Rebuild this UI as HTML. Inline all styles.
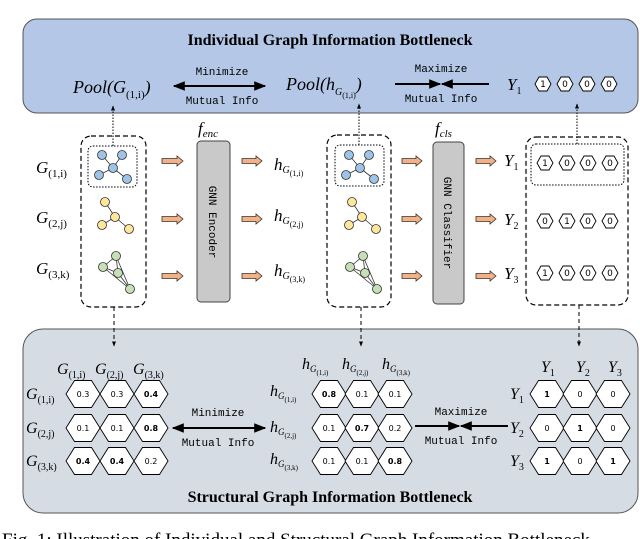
<!DOCTYPE html>
<html><head><meta charset="utf-8"><style>
html,body{margin:0;padding:0;background:#fff;overflow:hidden;}
svg{display:block}
.m{font-family:"Liberation Serif",serif;font-style:italic;}
.mono{font-family:"Liberation Mono","DejaVu Sans Mono",monospace;font-size:11px;}
.b{font-family:"Liberation Serif",serif;font-weight:bold;}
</style></head><body>
<svg id="s" width="640" height="539" viewBox="0 0 640 539" xmlns="http://www.w3.org/2000/svg">
<defs>
<marker id="ah" viewBox="0 0 10 10" refX="9" refY="5" markerWidth="6" markerHeight="6" orient="auto-start-reverse"><path d="M0,1 L10,5 L0,9 z" fill="#000"/></marker>
<marker id="ah2" viewBox="0 0 10 10" refX="9" refY="5" markerWidth="5" markerHeight="5" orient="auto"><path d="M0,1 L10,5 L0,9 z" fill="#000"/></marker>
</defs>
<rect x="23" y="19" width="615" height="94" rx="14" fill="#b4c7e7" stroke="#555" stroke-width="1"/>
<text x="330" y="45" text-anchor="middle" class="b" font-size="16">Individual Graph Information Bottleneck</text>
<text x="73" y="93" class="m" font-size="18">Pool(G<tspan font-size="11" dy="5" font-style="normal">(1,i)</tspan><tspan dy="-5">)</tspan></text>
<text x="222" y="75" text-anchor="middle" class="mono">Minimize</text>
<text x="222" y="104" text-anchor="middle" class="mono">Mutual Info</text>
<line x1="174" y1="86" x2="265" y2="86" stroke="#000" stroke-width="2" marker-start="url(#ah)" marker-end="url(#ah)"/>
<text x="286" y="90" class="m" font-size="18">Pool(h<tspan font-size="10" dy="5">G</tspan><tspan font-size="8" dy="3" font-style="normal">(1,i)</tspan><tspan dy="-8">)</tspan></text>
<text x="441" y="72" text-anchor="middle" class="mono">Maximize</text>
<text x="441" y="102" text-anchor="middle" class="mono">Mutual Info</text>
<line x1="395" y1="84" x2="440" y2="84" stroke="#000" stroke-width="2" marker-end="url(#ah)"/>
<line x1="489" y1="84" x2="442" y2="84" stroke="#000" stroke-width="2" marker-end="url(#ah)"/>
<text x="507" y="90" class="m" font-size="17">Y<tspan font-size="10" dy="4" font-style="normal">1</tspan></text>
<g id="tophex"></g>

<rect x="23" y="329" width="615" height="184" rx="20" fill="#d6dce4" stroke="#555" stroke-width="1"/>
<text x="330" y="502" text-anchor="middle" class="b" font-size="16">Structural Graph Information Bottleneck</text>

<g fill="none" stroke="#000" stroke-width="1.2" stroke-dasharray="5,3">
<rect x="81" y="136" width="65" height="171" rx="10"/>
<rect x="327" y="135" width="64" height="172" rx="10"/>
<rect x="526" y="137" width="102" height="168" rx="10"/>
</g>
<g fill="none" stroke="#000" stroke-width="1" stroke-dasharray="1.5,1.5">
<rect x="88" y="146" width="49" height="41" rx="5"/>
<rect x="335" y="145" width="49" height="41" rx="5"/>
<rect x="531" y="144" width="93" height="41" rx="5"/>
<line x1="113" y1="146" x2="113" y2="106" marker-end="url(#ah2)"/>
<line x1="359" y1="145" x2="359" y2="104" marker-end="url(#ah2)"/>
<line x1="577" y1="144" x2="577" y2="104" marker-end="url(#ah2)"/>
</g>
<g fill="none" stroke="#000" stroke-width="1" stroke-dasharray="4,3">
<line x1="114" y1="307" x2="114" y2="346" marker-end="url(#ah2)"/>
<line x1="361" y1="307" x2="361" y2="346" marker-end="url(#ah2)"/>
<line x1="579" y1="305" x2="579" y2="346" marker-end="url(#ah2)"/>
</g>

<g id="g1" stroke="#333" stroke-width="0.8">
<g fill="#9dc3e6"><line x1="102" y1="155" x2="113" y2="168"/><line x1="122" y1="155" x2="113" y2="168"/><line x1="99" y1="175" x2="113" y2="168"/><line x1="127" y1="179" x2="113" y2="168"/>
<circle cx="102" cy="155" r="4.5"/><circle cx="122" cy="155" r="4.5"/><circle cx="113" cy="168" r="4.5"/><circle cx="99" cy="175" r="4.5"/><circle cx="127" cy="179" r="4.5"/></g>
<g fill="#ffe699"><line x1="105" y1="202" x2="115" y2="217"/><line x1="102" y1="225" x2="115" y2="217"/><line x1="129" y1="229" x2="115" y2="217"/>
<circle cx="105" cy="202" r="4.5"/><circle cx="115" cy="217" r="4.5"/><circle cx="102" cy="225" r="4.5"/><circle cx="129" cy="229" r="4.5"/></g>
<g fill="#c5e0b4"><line x1="116" y1="256" x2="103" y2="267"/><line x1="116" y1="256" x2="118" y2="273"/><line x1="103" y1="267" x2="118" y2="273"/><line x1="103" y1="267" x2="130" y2="289"/><line x1="118" y1="273" x2="130" y2="289"/><line x1="116" y1="256" x2="130" y2="289"/>
<circle cx="116" cy="256" r="4.5"/><circle cx="103" cy="267" r="4.5"/><circle cx="118" cy="273" r="4.5"/><circle cx="130" cy="289" r="4.5"/></g>
</g>
<use href="#g1" x="247" y="0"/>

<g class="m" font-size="17">
<text x="36" y="173">G<tspan font-size="11" dy="4" font-style="normal">(1,i)</tspan></text>
<text x="36" y="223">G<tspan font-size="11" dy="4" font-style="normal">(2,j)</tspan></text>
<text x="36" y="274">G<tspan font-size="11" dy="4" font-style="normal">(3,k)</tspan></text>
<text x="274" y="170">h<tspan font-size="10" dy="3">G</tspan><tspan font-size="8" dy="3" font-style="normal">(1,i)</tspan></text>
<text x="274" y="221">h<tspan font-size="10" dy="3">G</tspan><tspan font-size="8" dy="3" font-style="normal">(2,j)</tspan></text>
<text x="274" y="276">h<tspan font-size="10" dy="3">G</tspan><tspan font-size="8" dy="3" font-style="normal">(3,k)</tspan></text>
<text x="504" y="166">Y<tspan font-size="10" dy="4" font-style="normal">1</tspan></text>
<text x="504" y="225">Y<tspan font-size="10" dy="4" font-style="normal">2</tspan></text>
<text x="504" y="279">Y<tspan font-size="10" dy="4" font-style="normal">3</tspan></text>
<text x="198" y="134">f<tspan font-size="11" dy="3">enc</tspan></text>
<text x="435" y="134">f<tspan font-size="11" dy="3">cls</tspan></text>
</g>

<rect x="197" y="141" width="33" height="161" rx="4" fill="#c9c9c9" stroke="#444"/>
<rect x="433" y="142" width="31" height="162" rx="4" fill="#c9c9c9" stroke="#444"/>
<text transform="translate(209,222) rotate(90)" text-anchor="middle" class="mono" font-size="10">GNN Encoder</text>
<text transform="translate(444,223) rotate(90)" text-anchor="middle" class="mono" font-size="10">GNN Classifier</text>

<g id="arrows"></g>

<g class="m" font-size="16">
<text x="57" y="374">G<tspan font-size="10" dy="4" font-style="normal">(1,i)</tspan></text>
<text x="95" y="374">G<tspan font-size="10" dy="4" font-style="normal">(2,j)</tspan></text>
<text x="133" y="374">G<tspan font-size="10" dy="4" font-style="normal">(3,k)</tspan></text>
<text x="26" y="399">G<tspan font-size="10" dy="4" font-style="normal">(1,i)</tspan></text>
<text x="26" y="433">G<tspan font-size="10" dy="4" font-style="normal">(2,j)</tspan></text>
<text x="26" y="466">G<tspan font-size="10" dy="4" font-style="normal">(3,k)</tspan></text>
<text x="302" y="369">h<tspan font-size="9" dy="3">G</tspan><tspan font-size="7" dy="3" font-style="normal">(1,i)</tspan></text>
<text x="342" y="369">h<tspan font-size="9" dy="3">G</tspan><tspan font-size="7" dy="3" font-style="normal">(2,j)</tspan></text>
<text x="382" y="369">h<tspan font-size="9" dy="3">G</tspan><tspan font-size="7" dy="3" font-style="normal">(3,k)</tspan></text>
<text x="270" y="396">h<tspan font-size="9" dy="3">G</tspan><tspan font-size="7" dy="3" font-style="normal">(1,i)</tspan></text>
<text x="270" y="432">h<tspan font-size="9" dy="3">G</tspan><tspan font-size="7" dy="3" font-style="normal">(2,j)</tspan></text>
<text x="270" y="464">h<tspan font-size="9" dy="3">G</tspan><tspan font-size="7" dy="3" font-style="normal">(3,k)</tspan></text>
<text x="541" y="372">Y<tspan font-size="10" dy="4" font-style="normal">1</tspan></text>
<text x="576" y="372">Y<tspan font-size="10" dy="4" font-style="normal">2</tspan></text>
<text x="608" y="372">Y<tspan font-size="10" dy="4" font-style="normal">3</tspan></text>
<text x="510" y="399">Y<tspan font-size="10" dy="4" font-style="normal">1</tspan></text>
<text x="510" y="433">Y<tspan font-size="10" dy="4" font-style="normal">2</tspan></text>
<text x="510" y="466">Y<tspan font-size="10" dy="4" font-style="normal">3</tspan></text>
</g>
<text x="218" y="416" text-anchor="middle" class="mono">Minimize</text>
<text x="218" y="446" text-anchor="middle" class="mono">Mutual Info</text>
<line x1="173" y1="428" x2="265" y2="428" stroke="#000" stroke-width="2" marker-start="url(#ah)" marker-end="url(#ah)"/>
<text x="461" y="415" text-anchor="middle" class="mono">Maximize</text>
<text x="461" y="444" text-anchor="middle" class="mono">Mutual Info</text>
<line x1="415" y1="426" x2="459" y2="426" stroke="#000" stroke-width="2" marker-end="url(#ah)"/>
<line x1="508" y1="426" x2="461" y2="426" stroke="#000" stroke-width="2" marker-end="url(#ah)"/>
<g id="bhex"></g>

<text x="2" y="546" font-family="Liberation Serif,serif" font-size="19">Fig. 1: Illustration of Individual and Structural Graph Information Bottleneck</text>
</svg>
<script>
var NS="http://www.w3.org/2000/svg";
function hex(parent,cx,cy,w,h,label,fs,bold){
 var g=document.getElementById(parent);
 var p=document.createElementNS(NS,"polygon");
 var a=w/2,b=w/4,c=h/2;
 p.setAttribute("points",[(cx-a)+","+cy,(cx-b)+","+(cy-c),(cx+b)+","+(cy-c),(cx+a)+","+cy,(cx+b)+","+(cy+c),(cx-b)+","+(cy+c)].join(" "));
 p.setAttribute("fill","#fff");p.setAttribute("stroke","#000");p.setAttribute("stroke-width","0.9");
 g.appendChild(p);
 var t=document.createElementNS(NS,"text");
 t.setAttribute("x",cx);t.setAttribute("y",cy+fs*0.35);t.setAttribute("text-anchor","middle");
 t.setAttribute("font-family","DejaVu Sans,Liberation Sans,sans-serif");t.setAttribute("font-size",fs);
 if(bold)t.setAttribute("font-weight","bold");
 t.textContent=label;g.appendChild(t);
}
var tx=[543,565,587,609];
["1","0","0","0"].forEach(function(v,i){hex("tophex",tx[i],84,16,14,v,9,false);});
var rows=[["1","0","0","0"],["0","1","0","0"],["1","0","0","0"]],ry=[163,221,273],mx=[545,567,588,610];
rows.forEach(function(r,j){r.forEach(function(v,i){hex("tophex",mx[i],ry[j],16,14,v,9,false);});});
function grid(cols,ys,data,bolds){data.forEach(function(r,j){r.forEach(function(v,i){hex("bhex",cols[i],ys[j],34,27,v,8,bolds[j][i]);});});}
var ys=[394,428,461];
grid([83,117,151],ys,[["0.3","0.3","0.4"],["0.1","0.1","0.8"],["0.4","0.4","0.2"]],[[0,0,1],[0,0,1],[1,1,0]]);
grid([329,362,395],ys,[["0.8","0.1","0.1"],["0.1","0.7","0.2"],["0.1","0.1","0.8"]],[[1,0,0],[0,1,0],[0,0,1]]);
grid([547,580,613],ys,[["1","0","0"],["0","1","0"],["1","0","1"]],[[1,0,0],[0,1,0],[1,0,1]]);
var ag=document.getElementById("arrows");
function barrow(x1,x2,y){
 var p=document.createElementNS(NS,"polygon");var hw=6;
 p.setAttribute("points",[x1+","+(y-2.5),(x2-hw)+","+(y-2.5),(x2-hw)+","+(y-5),x2+","+y,(x2-hw)+","+(y+5),(x2-hw)+","+(y+2.5),x1+","+(y+2.5)].join(" "));
 p.setAttribute("fill","#f4b183");p.setAttribute("stroke","#333");p.setAttribute("stroke-width","0.8");ag.appendChild(p);
}
[[162,183],[242,262],[402,422],[476,496]].forEach(function(a){[161,219,276].forEach(function(y){barrow(a[0],a[1],y);});});
</script>
</body></html>
